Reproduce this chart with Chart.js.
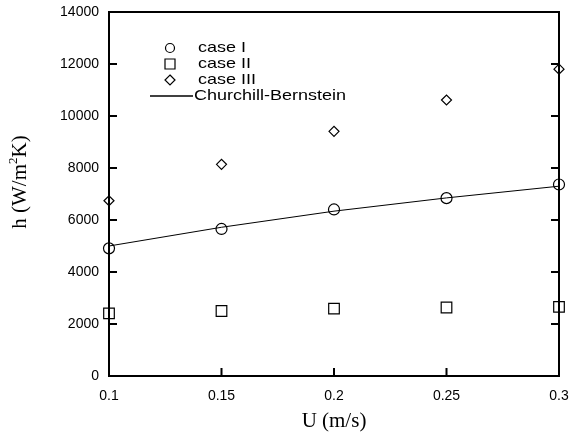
<!DOCTYPE html>
<html>
<head>
<meta charset="utf-8">
<script src="https://cdn.jsdelivr.net/npm/chart.js@4.4.1/dist/chart.umd.min.js"></script>
<style>
  html, body { margin: 0; padding: 0; background: #fff; }
  #wrap { width: 571px; height: 443px; }
</style>
</head>
<body>
<div id="wrap"><canvas id="hChart"></canvas></div>
<script>
// velocities (m/s)
const uValues = [0.1, 0.15, 0.2, 0.25, 0.3]
// heat transfer coefficient h (W/m2K)
const caseI = [4910, 5655, 6405, 6840, 7365]
const caseII = [2410, 2500, 2590, 2635, 2660]
const caseIII = [6740, 8140, 9410, 10615, 11800]
const churchill = [5000, 5720, 6340, 6850, 7300]
const xTicks = [0.1, 0.15, 0.2, 0.25, 0.3]
const yTicks = [0, 2000, 4000, 6000, 8000, 10000, 12000, 14000]

const legendItems = [
  { label: "case I", style: "circle" },
  { label: "case II", style: "square" },
  { label: "case III", style: "diamond" },
  { label: "Churchill-Bernstein", style: "line" },
]

function pts(ys) {
  return uValues.map((u, i) => ({ x: u, y: ys[i] }))
}

function markerSet(label, ys, style, r) {
  return {
    label: label,
    data: pts(ys),
    showLine: false,
    clip: false,
    pointStyle: style,
    pointRadius: r,
    pointBorderColor: "#000",
    pointBackgroundColor: "rgba(0,0,0,0)",
    pointBorderWidth: 1.2,
  }
}

// frame, inward ticks, axis titles and legend
const framePlugin = {
  id: "frame",
  afterDraw(chart) {
    const ctx = chart.ctx
    const a = chart.chartArea
    const xs = chart.scales.x
    const ys = chart.scales.y
    ctx.save()
    ctx.strokeStyle = "#000"
    ctx.lineWidth = 2
    ctx.strokeRect(a.left, a.top, a.right - a.left, a.bottom - a.top)
    ctx.beginPath()
    xTicks.forEach((v) => {
      const px = xs.getPixelForValue(v)
      ctx.moveTo(px, a.bottom)
      ctx.lineTo(px, a.bottom - 8)
    })
    yTicks.forEach((v) => {
      const py = ys.getPixelForValue(v)
      ctx.moveTo(a.left, py)
      ctx.lineTo(a.left + 8, py)
      ctx.moveTo(a.right, py)
      ctx.lineTo(a.right - 8, py)
    })
    ctx.stroke()

    // axis titles
    const serif = "'Liberation Serif', 'Times New Roman', serif"
    ctx.fillStyle = "#000"
    ctx.font = "21px " + serif
    ctx.textAlign = "center"
    ctx.textBaseline = "middle"
    ctx.fillText("U (m/s)", 334, 421)

    // y title with superscript 2
    const p1 = "h (W/m"
    const p2 = "K)"
    ctx.font = "21px " + serif
    const w1 = ctx.measureText(p1).width
    const w3 = ctx.measureText(p2).width
    ctx.font = "13px " + serif
    const w2 = ctx.measureText("2").width
    const total = w1 + w2 + w3
    ctx.save()
    ctx.translate(19, 182)
    ctx.rotate(-Math.PI / 2)
    ctx.textAlign = "left"
    ctx.textBaseline = "alphabetic"
    let x0 = -total / 2
    ctx.font = "21px " + serif
    ctx.fillText(p1, x0, 7)
    ctx.font = "13px " + serif
    ctx.fillText("2", x0 + w1, -2)
    ctx.font = "21px " + serif
    ctx.fillText(p2, x0 + w1 + w2, 7)
    ctx.restore()

    // legend
    const mx = 170
    const tx = 198
    const rowY = [48, 64, 80, 96]
    ctx.lineWidth = 1.2
    legendItems.forEach((it, i) => {
      const y = rowY[i]
      ctx.beginPath()
      if (it.style === "circle") {
        ctx.arc(mx, y, 4.5, 0, Math.PI * 2)
      } else if (it.style === "square") {
        ctx.rect(mx - 5, y - 5, 10, 10)
      } else if (it.style === "diamond") {
        ctx.moveTo(mx, y - 5)
        ctx.lineTo(mx + 5, y)
        ctx.lineTo(mx, y + 5)
        ctx.lineTo(mx - 5, y)
        ctx.closePath()
      } else {
        ctx.lineWidth = 1.5
        ctx.moveTo(150, y)
        ctx.lineTo(193, y)
      }
      ctx.stroke()
      ctx.save()
      ctx.font = "15px 'Liberation Sans', Arial, sans-serif"
      ctx.textAlign = "left"
      ctx.textBaseline = "middle"
      const lx = it.style === "line" ? 194 : tx
      ctx.translate(lx, y)
      ctx.scale(1.2, 1)
      ctx.fillText(it.label, 0, 0)
      ctx.restore()
    })
    ctx.restore()
  },
}

const data = {
  datasets: [
    {
      label: "Churchill-Bernstein",
      data: pts(churchill),
      showLine: true,
      borderColor: "#000",
      borderWidth: 1,
      pointRadius: 0,
      fill: false,
      tension: 0,
    },
    markerSet("case I", caseI, "circle", 5.5),
    markerSet("case II", caseII, "rect", 7.5),
    markerSet("case III", caseIII, "rectRot", 5),
  ],
}

const config = {
  type: "scatter",
  data: data,
  options: {
    responsive: true,
    maintainAspectRatio: false,
    animation: false,
    layout: { padding: { top: 12, right: 12, left: 0, bottom: 0 } },
    plugins: {
      legend: { display: false },
      tooltip: { enabled: false },
    },
    scales: {
      x: {
        type: "linear",
        min: 0.1,
        max: 0.3,
        afterBuildTicks: (s) => { s.ticks = xTicks.map((v) => ({ value: v })) },
        afterFit: (s) => {
          s.height = 67
          s.paddingLeft = 0
          s.paddingRight = 0
        },
        grid: { display: false, drawTicks: false },
        border: { display: false },
        ticks: {
          color: "#000",
          padding: 12,
          maxRotation: 0,
          autoSkip: false,
          font: { family: "'Liberation Sans', Arial, sans-serif", size: 14 },
          callback: (v) => String(v),
        },
      },
      y: {
        type: "linear",
        min: 0,
        max: 14000,
        afterBuildTicks: (s) => { s.ticks = yTicks.map((v) => ({ value: v })) },
        afterFit: (s) => {
          s.width = 109
          s.paddingTop = 0
          s.paddingBottom = 0
        },
        grid: { display: false, drawTicks: false },
        border: { display: false },
        ticks: {
          color: "#000",
          padding: 10,
          autoSkip: false,
          font: { family: "'Liberation Sans', Arial, sans-serif", size: 14 },
          callback: (v) => String(v),
        },
      },
    },
  },
  plugins: [framePlugin],
}

new Chart(document.getElementById("hChart"), config)
</script>
</body>
</html>
